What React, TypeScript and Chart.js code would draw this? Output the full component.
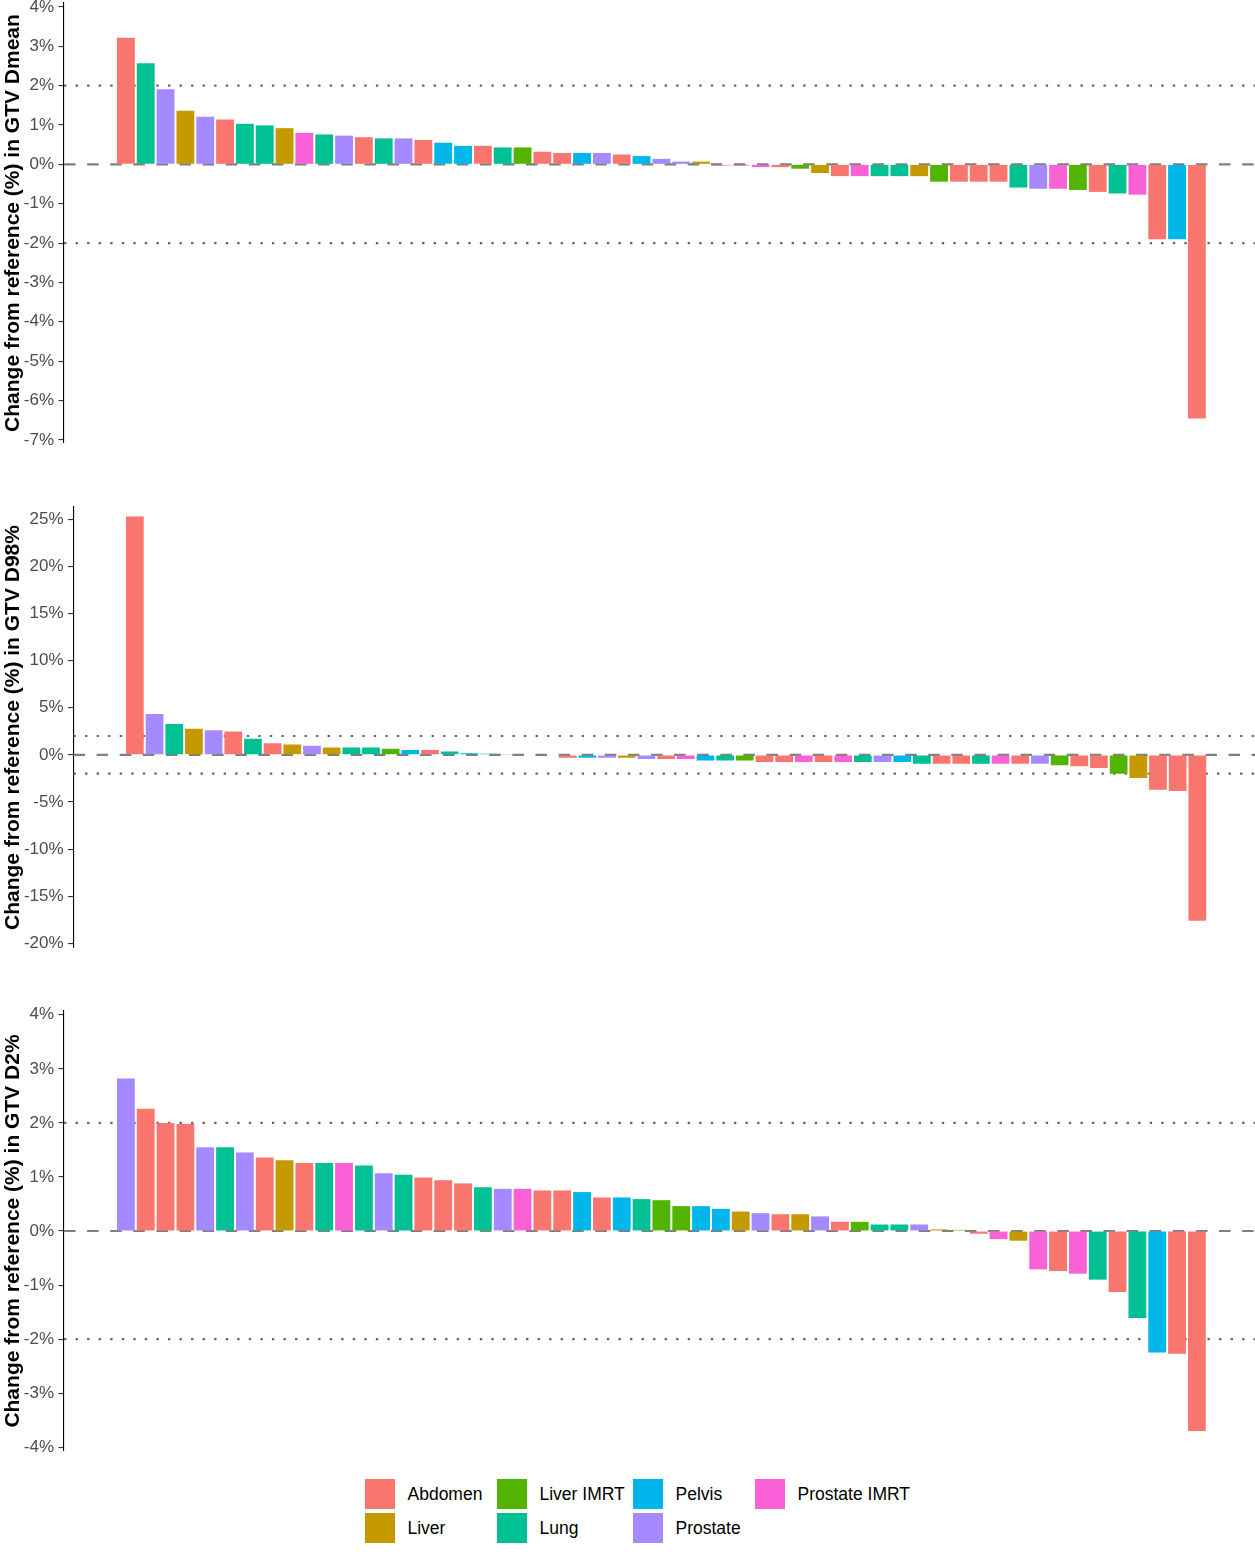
import React, { useEffect, useRef } from "react";
import { Chart, registerables } from "chart.js";

Chart.register(...registerables);

const FONT = "'Liberation Sans', Arial, Helvetica, sans-serif";

// ---- categories ----
const siteNames = ["Abdomen", "Liver", "Liver IMRT", "Lung", "Pelvis", "Prostate", "Prostate IMRT"];
const siteColors = ["#F8766D", "#C49A00", "#53B400", "#00C094", "#00B6EB", "#A58AFF", "#FB61D7"];

// ---- panel 1: GTV Dmean ----
const dmeanSites = [
  "Abdomen", "Lung", "Prostate", "Liver", "Prostate", "Abdomen", "Lung", "Lung", "Liver", "Prostate IMRT",
  "Lung", "Prostate", "Abdomen", "Lung", "Prostate", "Abdomen", "Pelvis", "Pelvis", "Abdomen", "Lung",
  "Liver IMRT", "Abdomen", "Abdomen", "Pelvis", "Prostate", "Abdomen", "Pelvis", "Prostate", "Prostate", "Liver",
  "Abdomen", "Abdomen", "Prostate IMRT", "Abdomen", "Liver IMRT", "Liver", "Abdomen", "Prostate IMRT", "Lung", "Lung",
  "Liver", "Liver IMRT", "Abdomen", "Abdomen", "Abdomen", "Lung", "Prostate", "Prostate IMRT", "Liver IMRT", "Abdomen",
  "Lung", "Prostate IMRT", "Abdomen", "Pelvis", "Abdomen",
];
const dmeanValues = [
  3.22, 2.57, 1.91, 1.36, 1.21, 1.14, 1.03, 0.99, 0.92, 0.8,
  0.76, 0.73, 0.69, 0.66, 0.66, 0.62, 0.55, 0.47, 0.47, 0.43,
  0.43, 0.32, 0.29, 0.29, 0.29, 0.25, 0.21, 0.14, 0.07, 0.07,
  -0.03, -0.03, -0.07, -0.07, -0.11, -0.22, -0.3, -0.3, -0.3, -0.3,
  -0.3, -0.44, -0.44, -0.44, -0.44, -0.59, -0.62, -0.62, -0.65, -0.7,
  -0.74, -0.77, -1.9, -1.9, -6.46,
];
const dmeanTicks = [4, 3, 2, 1, 0, -1, -2, -3, -4, -5, -6, -7];

// ---- panel 2: GTV D98% ----
const d98Sites = [
  "Abdomen", "Prostate", "Lung", "Liver", "Prostate", "Abdomen", "Lung", "Abdomen", "Liver", "Prostate",
  "Liver", "Lung", "Lung", "Liver IMRT", "Pelvis", "Abdomen", "Lung", "Pelvis", "Lung", "Prostate IMRT",
  "Prostate", "Abdomen", "Abdomen", "Pelvis", "Prostate", "Liver", "Prostate", "Abdomen", "Prostate IMRT", "Pelvis",
  "Lung", "Liver IMRT", "Abdomen", "Abdomen", "Prostate IMRT", "Abdomen", "Prostate IMRT", "Lung", "Prostate", "Pelvis",
  "Lung", "Abdomen", "Abdomen", "Lung", "Prostate IMRT", "Abdomen", "Prostate", "Liver IMRT", "Abdomen", "Abdomen",
  "Liver IMRT", "Liver", "Abdomen", "Abdomen", "Abdomen",
];
const d98Values = [
  25.3, 4.33, 3.27, 2.77, 2.62, 2.48, 1.7, 1.24, 1.1, 0.96,
  0.78, 0.78, 0.78, 0.64, 0.5, 0.5, 0.35, 0.18, 0.12, 0.1,
  0.05, -0.08, -0.3, -0.3, -0.3, -0.3, -0.45, -0.45, -0.45, -0.6,
  -0.6, -0.6, -0.75, -0.75, -0.75, -0.75, -0.75, -0.75, -0.75, -0.75,
  -0.95, -0.95, -0.95, -0.95, -0.95, -0.95, -0.95, -1.1, -1.2, -1.4,
  -2.0, -2.45, -3.7, -3.85, -17.6,
];
const d98Ticks = [25, 20, 15, 10, 5, 0, -5, -10, -15, -20];

// ---- panel 3: GTV D2% ----
const d2Sites = [
  "Prostate", "Abdomen", "Abdomen", "Abdomen", "Prostate", "Lung", "Prostate", "Abdomen", "Liver", "Abdomen",
  "Lung", "Prostate IMRT", "Lung", "Prostate", "Lung", "Abdomen", "Abdomen", "Abdomen", "Lung", "Prostate",
  "Prostate IMRT", "Abdomen", "Abdomen", "Pelvis", "Abdomen", "Pelvis", "Lung", "Liver IMRT", "Liver IMRT", "Pelvis",
  "Pelvis", "Liver", "Prostate", "Abdomen", "Liver", "Prostate", "Abdomen", "Liver IMRT", "Lung", "Lung",
  "Prostate", "Liver", "Liver IMRT", "Abdomen", "Prostate IMRT", "Liver", "Prostate IMRT", "Abdomen", "Prostate IMRT", "Lung",
  "Abdomen", "Lung", "Pelvis", "Abdomen", "Abdomen",
];
const d2Values = [
  2.82, 2.26, 2.0, 1.98, 1.55, 1.55, 1.45, 1.36, 1.31, 1.26,
  1.26, 1.26, 1.21, 1.07, 1.04, 0.99, 0.94, 0.88, 0.81, 0.78,
  0.78, 0.75, 0.75, 0.72, 0.62, 0.62, 0.59, 0.57, 0.46, 0.46,
  0.41, 0.36, 0.33, 0.31, 0.31, 0.27, 0.17, 0.17, 0.12, 0.12,
  0.12, 0.03, 0.02, -0.05, -0.15, -0.18, -0.71, -0.74, -0.79, -0.9,
  -1.13, -1.61, -2.25, -2.27, -3.7,
];
const d2Ticks = [4, 3, 2, 1, 0, -1, -2, -3, -4];

// reference lines
const zeroLine = [0];
const thresholdLines = [2, -2];

const refLinesPlugin = {
  id: "refLines",
  beforeDatasetsDraw(chart: any) {
    const { ctx, chartArea, scales } = chart;
    const y = scales.y;
    ctx.save();
    ctx.lineCap = "butt";
    // dotted thresholds
    ctx.strokeStyle = "#666666";
    ctx.lineWidth = 2.2;
    ctx.setLineDash([2.4, 9.15]);
    for (const v of thresholdLines) {
      const py = y.getPixelForValue(v);
      ctx.beginPath();
      ctx.moveTo(chartArea.left, py);
      ctx.lineTo(chartArea.right + 2, py);
      ctx.stroke();
    }
    // dashed zero
    ctx.strokeStyle = "#7f7f7f";
    ctx.setLineDash([11.55, 11.55]);
    for (const v of zeroLine) {
      const py = y.getPixelForValue(v);
      ctx.beginPath();
      ctx.moveTo(chartArea.left, py);
      ctx.lineTo(chartArea.right + 2, py);
      ctx.stroke();
    }
    ctx.restore();
  },
};

type PanelProps = {
  title: string;
  values: number[];
  sites: string[];
  ticks: number[];
  yMin: number;
  yMax: number;
  axisWidth: number;
  top: number;
  height: number;
  padTop: number;
  padBottom: number;
};

function Panel(p: PanelProps) {
  const ref = useRef<HTMLCanvasElement | null>(null);
  useEffect(() => {
    if (!ref.current) return;
    const chart = new Chart(ref.current, {
      type: "bar",
      data: {
        datasets: [
          {
            data: p.values.map((v, i) => ({ x: i, y: v })) as any,
            backgroundColor: p.sites.map((s) => siteColors[siteNames.indexOf(s)]),
            borderWidth: 0,
            barPercentage: 0.9,
            categoryPercentage: 1,
          },
        ],
      },
      options: {
        animation: false,
        responsive: true,
        maintainAspectRatio: false,
        layout: { padding: { top: p.padTop, bottom: p.padBottom, left: 0, right: 1 } },
        plugins: { legend: { display: false }, tooltip: { enabled: false } },
        scales: {
          x: {
            type: "linear",
            min: -3.12,
            max: 56.88,
            offset: false,
            display: false,
          },
          y: {
            type: "linear",
            min: p.yMin,
            max: p.yMax,
            afterBuildTicks: (s: any) => {
              s.ticks = p.ticks.map((v) => ({ value: v }));
            },
            afterFit: (s: any) => {
              s.width = p.axisWidth;
              s.paddingTop = 0;
              s.paddingBottom = 0;
            },
            ticks: {
              autoSkip: false,
              callback: (v: any) => `${v}%`,
              color: "#4D4D4D",
              font: { family: FONT, size: 17 },
              padding: 4.4,
            },
            grid: {
              drawOnChartArea: false,
              drawTicks: true,
              tickLength: 5.5,
              color: "#333333",
              lineWidth: 1.1,
            },
            border: { display: true, color: "#000000", width: 1.1 },
            title: {
              display: true,
              text: p.title,
              color: "#000000",
              font: { family: FONT, size: 21, weight: "bold" },
              padding: { top: 1, bottom: 0 },
            },
          },
        },
      } as any,
      plugins: [refLinesPlugin],
    });
    return () => chart.destroy();
  }, []);
  return (
    <div style={{ position: "absolute", left: 0, top: p.top, width: 1255, height: p.height }}>
      <canvas ref={ref} />
    </div>
  );
}

function Legend() {
  const colLefts = [365, 497, 633, 755];
  const rowTops = [1479, 1512.5];
  return (
    <>
      {siteNames.map((name, i) => {
        const col = Math.floor(i / 2);
        const row = i % 2;
        return (
          <div
            key={name}
            style={{
              position: "absolute",
              left: colLefts[col],
              top: rowTops[row],
              height: 30,
              display: "flex",
              alignItems: "center",
              whiteSpace: "nowrap",
            }}
          >
            <div style={{ width: 30, height: 30, background: siteColors[i] }} />
            <span
              style={{
                marginLeft: 12.5,
                fontFamily: FONT,
                fontSize: 17.5,
                color: "#000",
                lineHeight: "30px",
              }}
            >
              {name}
            </span>
          </div>
        );
      })}
    </>
  );
}

export default function App() {
  return (
    <div
      style={{
        position: "absolute",
        left: 0,
        top: 0,
        width: 1255,
        height: 1552,
        background: "#ffffff",
        overflow: "hidden",
      }}
    >
      <Panel
        title="Change from reference (%) in GTV Dmean"
        values={dmeanValues}
        sites={dmeanSites}
        ticks={dmeanTicks}
        yMin={-7.08}
        yMax={4.1}
        axisWidth={64}
        top={0}
        height={470}
        padTop={3}
        padBottom={27}
      />
      <Panel
        title="Change from reference (%) in GTV D98%"
        values={d98Values}
        sites={d98Sites}
        ticks={d98Ticks}
        yMin={-20.5}
        yMax={26.3}
        axisWidth={73.5}
        top={470}
        height={500}
        padTop={37}
        padBottom={22}
      />
      <Panel
        title="Change from reference (%) in GTV D2%"
        values={d2Values}
        sites={d2Sites}
        ticks={d2Ticks}
        yMin={-4.07}
        yMax={4.07}
        axisWidth={64}
        top={970}
        height={495}
        padTop={41}
        padBottom={14}
      />
      <Legend />
    </div>
  );
}
